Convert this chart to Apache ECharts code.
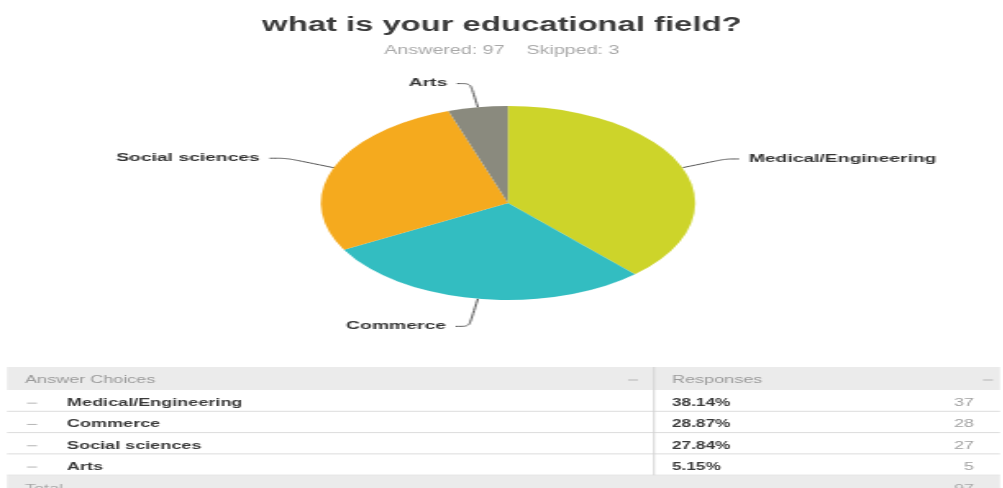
<!DOCTYPE html>
<html>
<head>
<meta charset="utf-8">
<script src="https://cdn.jsdelivr.net/npm/echarts@6/dist/echarts.min.js"></script>
<style>
  html, body { margin: 0; padding: 0; background: #fff; overflow: hidden; }
  #wrap { position: relative; width: 1003px; height: 488px; }
  /* the source picture is stretched sideways, so both layers are scaled on x */
  .layer { position: absolute; left: 0; top: 0; height: 488px; transform-origin: 0 0; }
  #tbl { width: 612px; transform: scaleX(1.64); }
  #pie { width: 520px; transform: scaleX(1.93); }
</style>
</head>
<body>
<div id="wrap">
  <div id="tbl" class="layer"></div>
  <div id="pie" class="layer"></div>
</div>
<script>
const categories = ['Medical/Engineering', 'Commerce', 'Social sciences', 'Arts'];
const responses = [37, 28, 27, 5];
const percentLabels = ['38.14%', '28.87%', '27.84%', '5.15%'];
const answered = 97;
const skipped = 3;
const total = 97;

const colors = ['#cdd42a', '#33bdc1', '#f5aa1e', '#8a8a7e'];
const FONT = '"Liberation Sans", Arial, sans-serif';

const SA = 1.64;   // x stretch of title/table layer
const SB = 1.93;   // x stretch of pie layer
const ax = px => px / SA;
const bx = px => px / SB;

// ---- title + table layer
const tblChart = echarts.init(document.getElementById('tbl'), null, { renderer: 'canvas' });

const headTop = 367, headH = 23, rowH = 21.3, txtOff = 2.5;
const tLeft = ax(7), tRight = ax(1000), colX = ax(654);
const els = [];

function txt(x, y, text, font, fill, align) {
  return { type: 'text', x: x, y: y,
    style: { text: text, font: font, fill: fill, align: align, verticalAlign: 'middle',
      textAlign: align, textVerticalAlign: 'middle' } };
}

els.push({ type: 'rect', shape: { x: tLeft, y: headTop, width: tRight - tLeft, height: headH },
  style: { fill: '#ebebeb' } });
els.push(txt(ax(25), headTop + headH / 2 + 1.5, 'Answer Choices', '11px ' + FONT, '#9a9a9a', 'left'));
els.push(txt(ax(672), headTop + headH / 2 + 1.5, 'Responses', '11px ' + FONT, '#9a9a9a', 'left'));
[ax(633), ax(988)].forEach(x => {
  els.push({ type: 'line', shape: { x1: x - 3, y1: headTop + 13, x2: x + 3, y2: headTop + 13 },
    style: { stroke: '#b5b5b5', lineWidth: 1 } });
});

categories.forEach((name, i) => {
  const top = headTop + headH + i * rowH;
  const cy = top + rowH / 2 + txtOff;
  els.push({ type: 'line', shape: { x1: tLeft, y1: top + rowH, x2: tRight, y2: top + rowH },
    style: { stroke: '#dcdcdc', lineWidth: 1 } });
  els.push({ type: 'line', shape: { x1: ax(27), y1: cy, x2: ax(37), y2: cy },
    style: { stroke: '#b5b5b5', lineWidth: 1 } });
  els.push(txt(ax(67), cy, name, 'bold 11px ' + FONT, '#3a3a3a', 'left'));
  els.push(txt(ax(672), cy, percentLabels[i], 'bold 10.5px ' + FONT, '#3a3a3a', 'left'));
  els.push(txt(ax(974), cy, String(responses[i]), '11px ' + FONT, '#a0a0a0', 'right'));
});

const totTop = headTop + headH + categories.length * rowH;
els.push({ type: 'rect', shape: { x: tLeft, y: totTop + 0.5, width: tRight - tLeft, height: 30 },
  style: { fill: '#ebebeb' } });
els.push(txt(ax(25), totTop + 14, 'Total', '11px ' + FONT, '#a8a8a8', 'left'));
els.push(txt(ax(974), totTop + 14, String(total), '11px ' + FONT, '#a8a8a8', 'right'));
// column divider
els.push({ type: 'line', shape: { x1: colX, y1: headTop, x2: colX, y2: totTop },
  style: { stroke: '#d2d2d2', lineWidth: 1 } });

tblChart.setOption({
  animation: false,
  title: {
    text: 'what is your educational field?',
    subtext: 'Answered: ' + answered + '    Skipped: ' + skipped,
    left: 'center',
    top: 10,
    itemGap: 10,
    textStyle: { fontFamily: FONT, fontWeight: 'bold', fontSize: 20, color: '#3c3c3c' },
    subtextStyle: { fontFamily: FONT, fontSize: 12, color: '#a8a8a8' }
  },
  graphic: { elements: els }
});

// ---- pie layer
const pieChart = echarts.init(document.getElementById('pie'), null, { renderer: 'canvas' });
// radial leader length per slice
const leadLen = [24, 28, 26, 24];
pieChart.setOption({
  animation: false,
  color: colors,
  series: [{
    type: 'pie',
    center: [bx(508), 203],
    radius: 97,
    startAngle: 90,
    clockwise: true,
    silent: true,
    itemStyle: { borderWidth: 0 },
    label: {
      show: true,
      formatter: '{b}',
      fontFamily: FONT,
      fontWeight: 'bold',
      fontSize: 10,
      color: '#333'
    },
    labelLine: {
      show: true,
      length: 24,
      length2: 7,
      smooth: 0.3,
      lineStyle: { color: '#555', width: 1 }
    },
    data: categories.map((name, i) => ({
      name: name,
      value: responses[i],
      labelLine: { length: leadLen[i], length2: i === 2 ? 9 : 7 }
    }))
  }]
});
</script>
</body>
</html>
